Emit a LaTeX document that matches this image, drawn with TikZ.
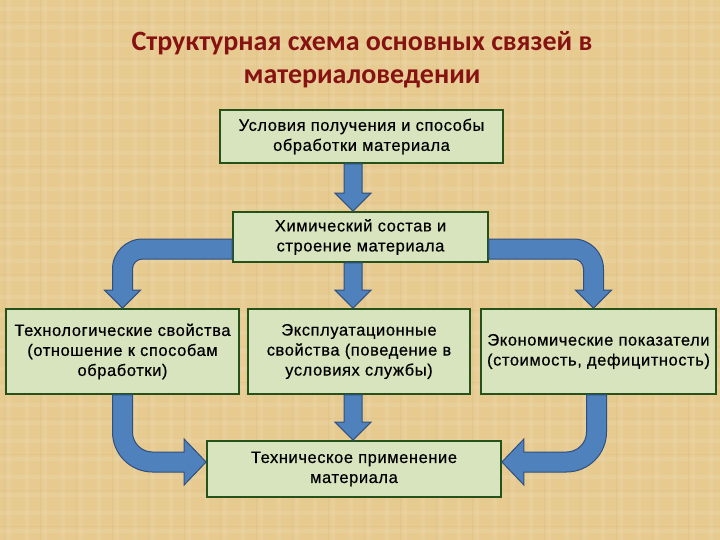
\documentclass[tikz,border=0pt]{standalone}
\usepackage{fontspec}
\setmainfont[LetterSpace=3.5,FakeBold=0.5]{Liberation Sans}
\newfontfamily\titlefont{Carlito}
\usetikzlibrary{calc}
\definecolor{PaperTan}{HTML}{E7CA90}
\definecolor{PaperDark}{HTML}{C9A264}
\definecolor{TitleRed}{HTML}{861212}
\definecolor{BoxFill}{HTML}{D7E4BD}
\definecolor{BoxEdge}{HTML}{24521A}
\definecolor{ArrowBlue}{HTML}{4F81BD}
\definecolor{ArrowEdge}{HTML}{2F4F7F}

\tikzset{
  block/.style={draw=BoxEdge, line width=1.8pt, fill=BoxFill, align=center,
    inner sep=0pt, font=\fontsize{16.5}{20}\selectfont},
  blockarrow/.style={fill=ArrowBlue, draw=ArrowEdge, line width=1pt, line join=miter}
}

% straight block arrow, from the bottom of #1 to the top of #2
\newcommand{\downblock}[2]{%
  \path[blockarrow] let \p1=(#1.south), \p2=(#2.north), \p3=(spine) in
    (\x3-9pt,\y1) -- (\x3-9pt,\y2+18pt) -- (\x3-18pt,\y2+18pt) -- (\x3,\y2)
    -- (\x3+18pt,\y2+18pt) -- (\x3+9pt,\y2+18pt) -- (\x3+9pt,\y1) -- cycle;}

\begin{document}
\begin{tikzpicture}[x=1pt,y=-1pt]
  \useasboundingbox (0,0) rectangle (720,540);
  % paper
  \fill[PaperTan] (0,0) rectangle (720,540);
  \foreach \x in {9,27,...,720} {
    \draw[white, opacity=0.08, line width=4pt] (\x,0) -- (\x,540);
  }
  \foreach \y in {9,27,...,540} {
    \draw[white, opacity=0.08, line width=4pt] (0,\y) -- (720,\y);
  }
  \foreach \x in {4,40,...,720} {
    \draw[PaperDark, opacity=0.12, line width=0.6pt] (\x,0) -- (\x,540);
  }
  \foreach \y in {22,58,...,540} {
    \draw[PaperDark, opacity=0.12, line width=0.6pt] (0,\y) -- (720,\y);
  }

  \node[TitleRed, align=center, font=\titlefont\bfseries\fontsize{28}{33}\selectfont]
    (title) at (362,60) {Структурная схема основных связей в\\материаловедении};

  \node[block, minimum width=283, minimum height=53] (cond) at (361.5,136.5)
    {Условия получения и способы\\обработки материала};
  \node[block, minimum width=255, minimum height=50] (chem) at (360.5,237)
    {Химический состав и\\строение материала};
  \node[block, minimum width=233, minimum height=85] (tech) at (122.5,351.5)
    {Технологические свойства\\(отношение к способам\\обработки)};
  \node[block, minimum width=222, minimum height=85] (expl) at (359,351.5)
    {Эксплуатационные\\свойства (поведение в\\условиях службы)};
  \node[block, minimum width=235, minimum height=85] (econ) at (598.5,351.5)
    {Экономические показатели\\(стоимость, дефицитность)};
  \node[block, minimum width=294, minimum height=56] (appl) at (354,469)
    {Техническое применение\\материала};

  \coordinate (spine) at (353,0);
  \downblock{cond}{chem}
  \downblock{chem}{expl}
  \downblock{expl}{appl}

  % bent arrows out of the composition box
  \path[blockarrow] let \p1=(chem.west), \p2=(tech.north) in
    (\x1,\y1-2pt) -- (\x2+20pt,\y1-2pt) arc[start angle=90, end angle=180, radius=30pt]
    -- (\x2-10pt,\y2+18pt) -- (\x2-18pt,\y2+18pt) -- (\x2,\y2) -- (\x2+18pt,\y2+18pt)
    -- (\x2+10pt,\y2+18pt) -- (\x2+10pt,\y1-32pt) arc[start angle=180, end angle=90, radius=10pt]
    -- (\x1,\y1-22pt) -- cycle;
  \path[blockarrow] let \p1=(chem.east), \p2=([xshift=-5pt]econ.north) in
    (\x1,\y1-2pt) -- (\x2-20pt,\y1-2pt) arc[start angle=90, end angle=0, radius=30pt]
    -- (\x2+10pt,\y2+18pt) -- (\x2+18pt,\y2+18pt) -- (\x2,\y2) -- (\x2-18pt,\y2+18pt)
    -- (\x2-10pt,\y2+18pt) -- (\x2-10pt,\y1-32pt) arc[start angle=0, end angle=90, radius=10pt]
    -- (\x1,\y1-22pt) -- cycle;

  % bent arrows into the application box
  \path[blockarrow] let \p1=(tech.south), \p2=([yshift=7pt]appl.west) in
    (\x1-10pt,\y1) -- (\x1-10pt,\y2+30pt) arc[start angle=180, end angle=270, radius=40pt]
    -- (\x2-22pt,\y2-10pt) -- (\x2-22pt,\y2-23pt) -- (\x2,\y2) -- (\x2-22pt,\y2+23pt)
    -- (\x2-22pt,\y2+10pt) -- (\x1+30pt,\y2+10pt) arc[start angle=270, end angle=180, radius=20pt]
    -- (\x1+10pt,\y1) -- cycle;
  \path[blockarrow] let \p1=([xshift=-2pt]econ.south), \p2=([yshift=7pt]appl.east) in
    (\x1+10pt,\y1) -- (\x1+10pt,\y2+30pt) arc[start angle=0, end angle=-90, radius=40pt]
    -- (\x2+22pt,\y2-10pt) -- (\x2+22pt,\y2-23pt) -- (\x2,\y2) -- (\x2+22pt,\y2+23pt)
    -- (\x2+22pt,\y2+10pt) -- (\x1-30pt,\y2+10pt) arc[start angle=-90, end angle=0, radius=20pt]
    -- (\x1-10pt,\y1) -- cycle;
\end{tikzpicture}
\end{document}
